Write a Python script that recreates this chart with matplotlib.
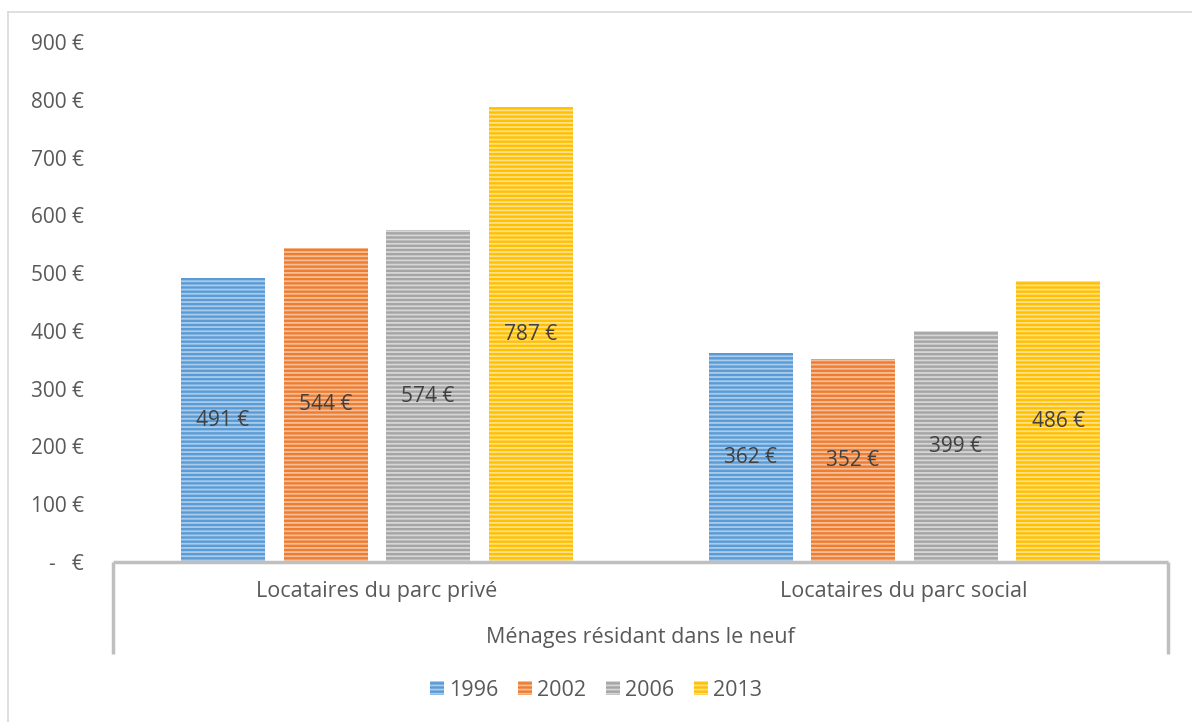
import matplotlib
matplotlib.use("Agg")
import matplotlib.pyplot as plt
from matplotlib.lines import Line2D
from matplotlib.patches import Patch
import numpy as np

categories = ["Locataires du parc privé", "Locataires du parc social"]
group_label = "Ménages résidant dans le neuf"
years = ["1996", "2002", "2006", "2013"]
values = {
    "1996": [491, 362],
    "2002": [544, 352],
    "2006": [574, 399],
    "2013": [787, 486],
}
yticks = [0, 100, 200, 300, 400, 500, 600, 700, 800, 900]

colors = ["#5B9BD5", "#ED7D31", "#A5A5A5", "#FFC000"]
light = ["#A9CCEC", "#F6BE98", "#D6D6D6", "#FFE08A"]
txt = "#595959"
font = "Open Sans"

plt.rcParams["hatch.linewidth"] = 1.3
fig = plt.figure(figsize=(11.92, 7.22), dpi=100)
W, H = 1192, 722
ax = fig.add_axes([113 / W, (H - 562) / H, (1168 - 113) / W, (562 - 42) / H])

x = np.arange(len(categories))
bw = 84 / 527.5
step = 102.5 / 527.5
offs = (np.arange(len(years)) - 1.5) * step
for i, y in enumerate(years):
    bars = ax.bar(x + offs[i], values[y], width=bw, color=colors[i],
                  edgecolor=light[i], linewidth=0, hatch="----", label=y)
    for b, v in zip(bars, values[y]):
        ax.text(b.get_x() + b.get_width() / 2, v / 2, f"{v} €", ha="center",
                va="center", fontsize=15, color="#404040", family=font)

ax.set_xlim(-0.5, 1.5)
ax.set_ylim(0, 900)
ax.set_yticks(yticks)
ax.set_yticklabels(["-   €" if t == 0 else f"{t} €" for t in yticks],
                   fontsize=15, color=txt, family=font)
ax.tick_params(axis="y", length=0, pad=21)
ax.set_xticks([])
for s in ax.spines.values():
    s.set_visible(False)

# hierarchical axis box
lc = "#BFBFBF"
ax.add_line(Line2D([0, 1], [0, 0], transform=ax.transAxes, color=lc, lw=2.5,
                   clip_on=False, solid_capstyle="butt"))
depth = (654 - 562) / (562 - 42)
for xx in (0, 1):
    ax.add_line(Line2D([xx, xx], [0, -depth], transform=ax.transAxes, color=lc,
                       lw=2.5, clip_on=False, solid_capstyle="butt"))
for i, c in enumerate(categories):
    ax.text(i, -(591 - 562) / (562 - 42) * 900, c, ha="center", va="center",
            fontsize=15.5, color=txt, family=font)
ax.text(0.5, -(638 - 562) / (562 - 42), group_label, transform=ax.transAxes,
        ha="center", va="center", fontsize=15.5, color=txt, family=font)

# figure border (top and left visible)
fig.add_artist(Line2D([8 / W, 1], [1 - 11.5 / H, 1 - 11.5 / H], transform=fig.transFigure,
                      color="#D9D9D9", lw=1.2))
fig.add_artist(Line2D([8 / W, 8 / W], [0, 1 - 11.5 / H], transform=fig.transFigure,
                      color="#D9D9D9", lw=1.2))

handles = [Patch(facecolor=colors[i], edgecolor=light[i], hatch="----", linewidth=0,
                 label=y) for i, y in enumerate(years)]
fig.legend(handles=handles, loc="center", bbox_to_anchor=(0.5, 1 - 690 / H), ncol=4,
           frameon=False, prop={"family": font, "size": 15.5}, labelcolor=txt,
           handlelength=0.65, handleheight=0.65, handletextpad=0.25, columnspacing=0.9)

fig.savefig("out.png", dpi=100)
